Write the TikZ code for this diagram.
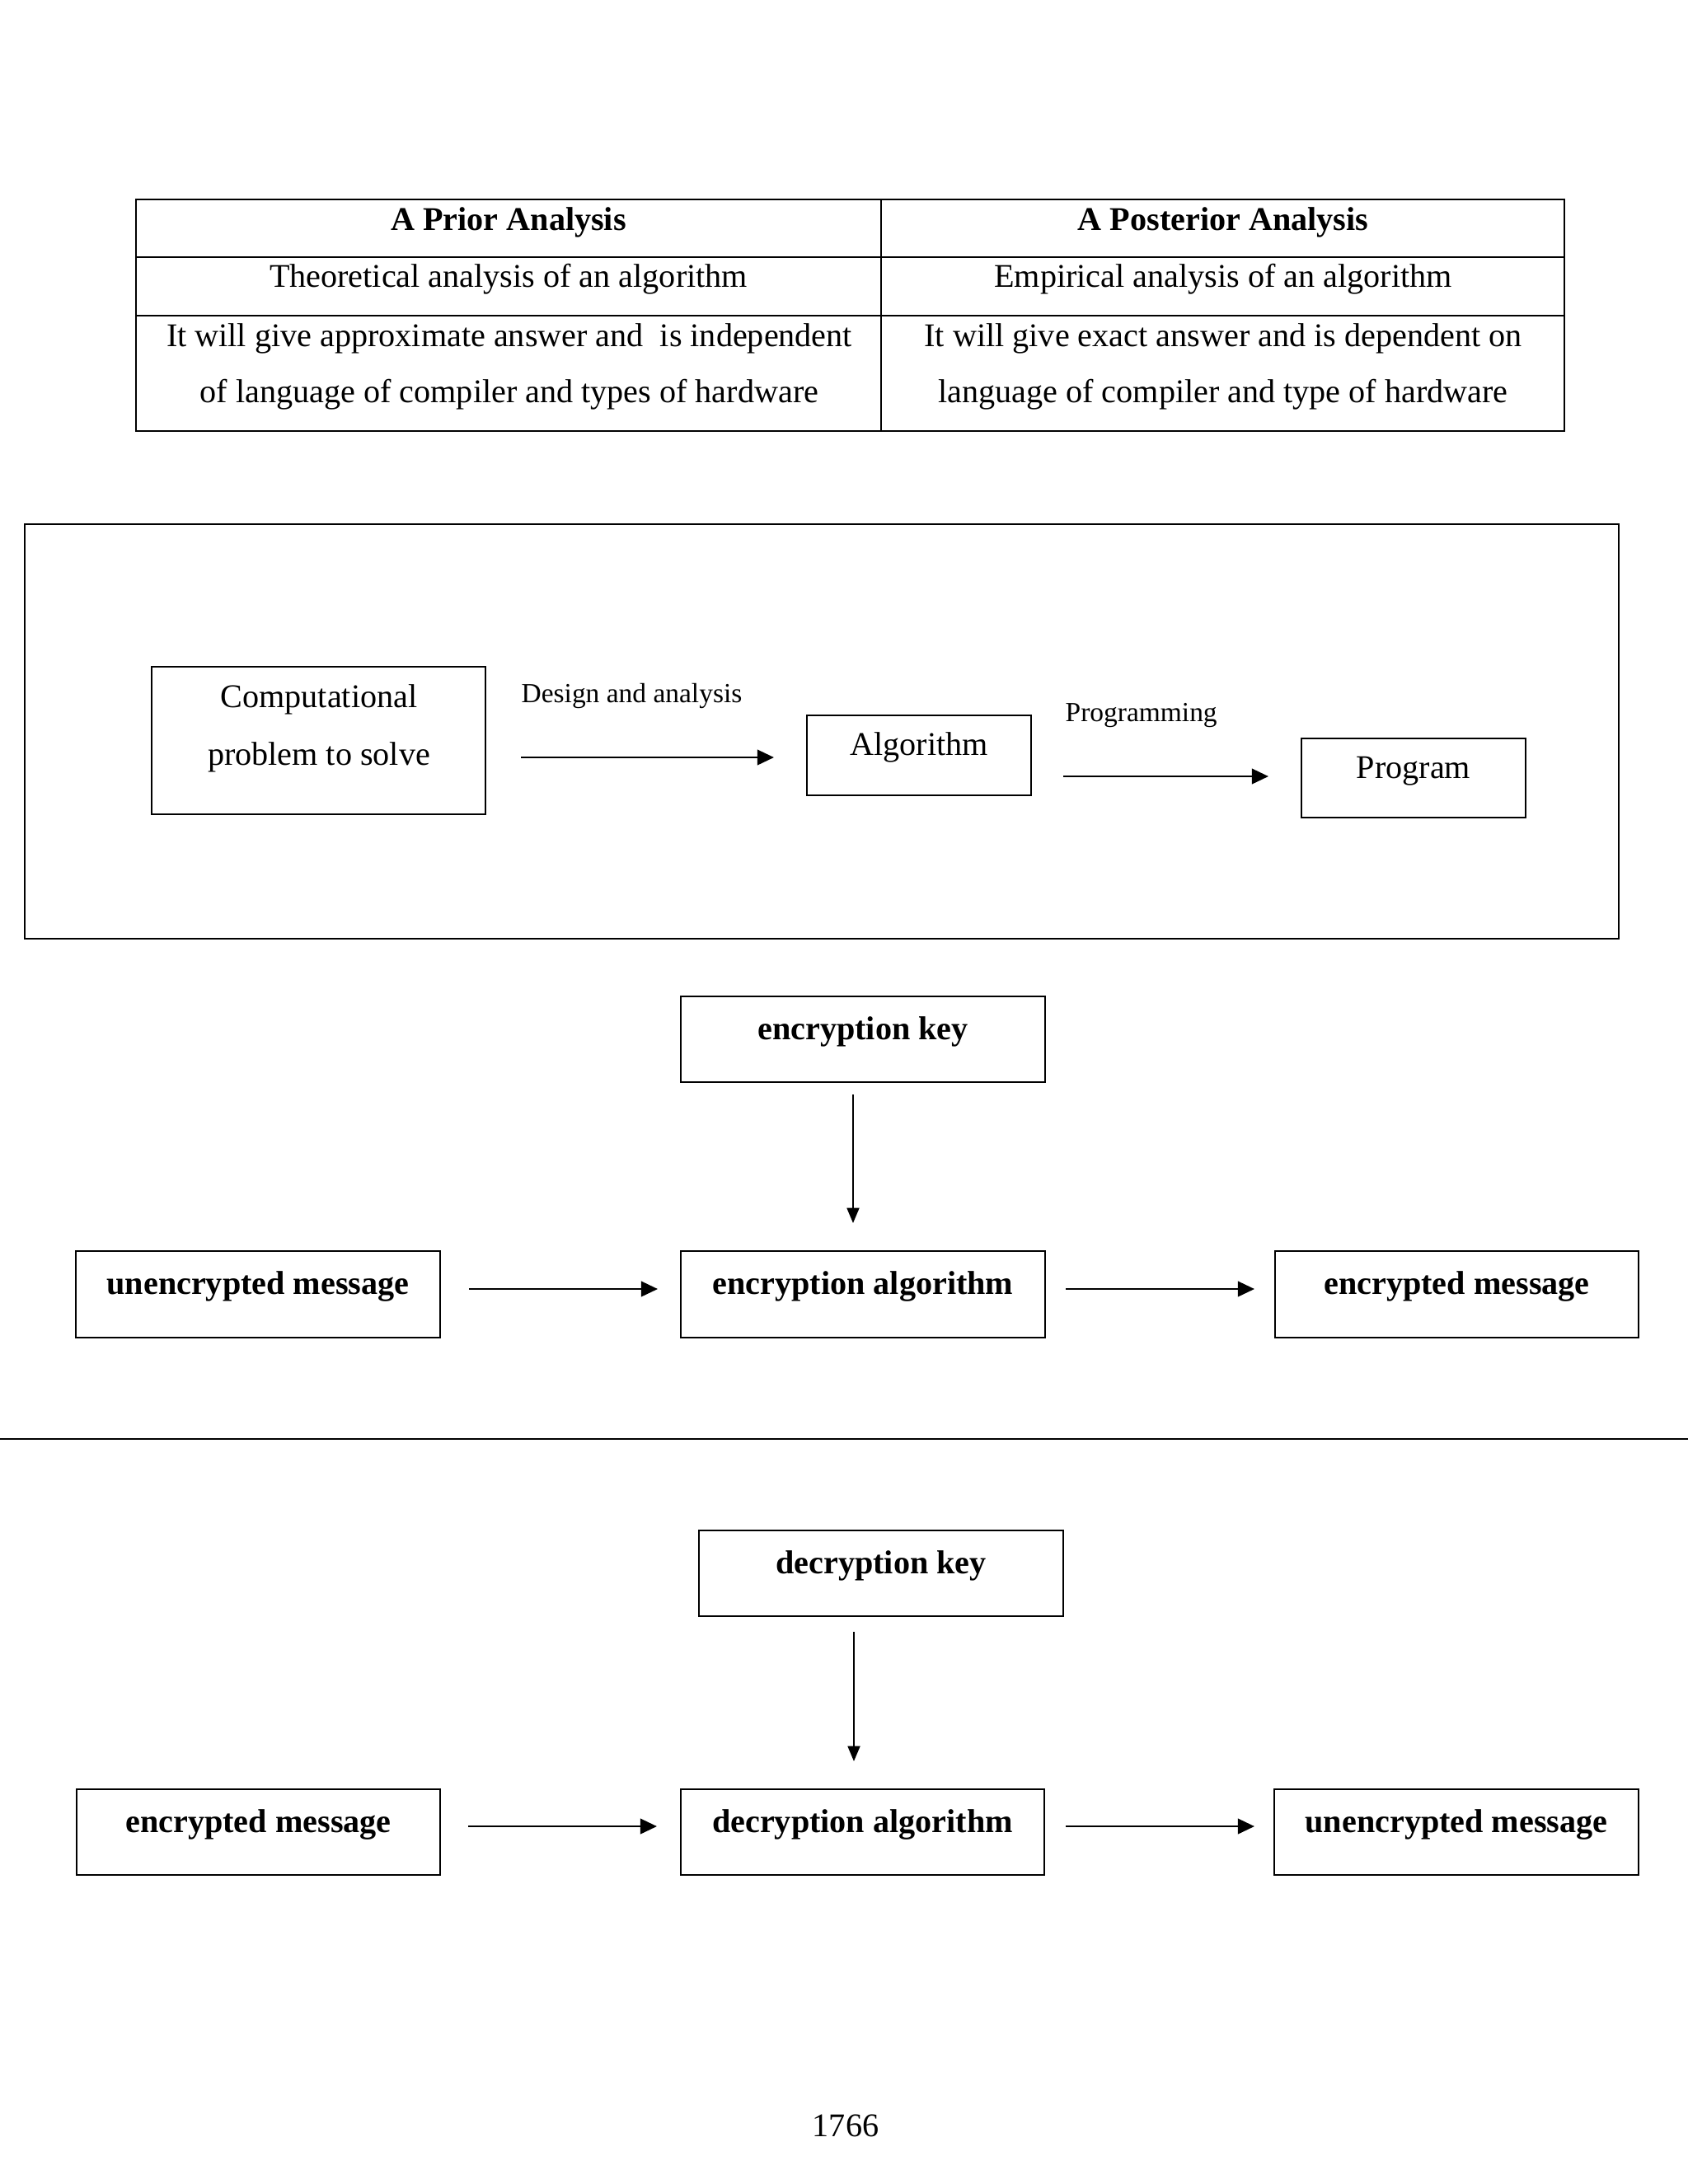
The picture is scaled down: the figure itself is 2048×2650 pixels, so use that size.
\documentclass[tikz,border=0pt]{standalone}
\usepackage{fontspec}
\setmainfont{Liberation Serif}
\usetikzlibrary{arrows.meta}
\def\pxu{0.29883pt}
\begin{document}
\begin{tikzpicture}[x=0.29883pt,y=-0.29883pt,
  tline/.style={line width=0.55pt},
  frame/.style={line width=0.55pt},
  box/.style={draw, line width=0.7pt, inner sep=0pt, text height=1.2ex, text depth=1.2ex},
  bbox/.style={box, font=\bfseries\fontsize{12}{14}\selectfont},
  rbox/.style={box, font=\fontsize{12}{14}\selectfont},
  txt/.style={anchor=base, inner sep=0pt, font=\fontsize{12}{14}\selectfont},
  btxt/.style={txt, font=\bfseries\fontsize{12}{14}\selectfont},
  lbl/.style={anchor=base west, inner sep=0pt, font=\fontsize{10}{12}\selectfont},
  arrH/.style={line width=0.8pt, -{Triangle[length=6pt,width=5.5pt]}},
  arrV/.style={line width=0.5pt, -{Triangle[length=5.5pt,width=4.5pt]}}]
\useasboundingbox (0,0) rectangle (2048,2650);

% ---------- table ----------
\draw[tline] (165,242) rectangle (1898,523);
\draw[tline] (165,312) -- (1898,312);
\draw[tline] (165,383) -- (1898,383);
\draw[tline] (1069,242) -- (1069,523);
\node[btxt] (h1) at (617,279) {A Prior Analysis};
\node[btxt] (h2) at (1484,279) {A Posterior Analysis};
\node[txt] (r2a) at (617,348) {Theoretical analysis of an algorithm};
\node[txt] (r2b) at (1484,348) {Empirical analysis of an algorithm};
\node[txt] (r3a1) at (618,420) {It will give approximate answer and~ is independent};
\node[txt] (r3a2) at (618,488) {of language of compiler and types of hardware};
\node[txt] (r3b1) at (1484,420) {It will give exact answer and is dependent on};
\node[txt] (r3b2) at (1484,488) {language of compiler and type of hardware};

% ---------- design diagram ----------
\draw[frame] (30,636) rectangle (1964,1139);
\node[draw, line width=0.7pt, minimum width=405*\pxu, minimum height=179*\pxu, inner sep=0pt] (comp) at (386.5,898.5) {};
\node[txt] (comp1) at (387,858) {Computational};
\node[txt] (comp2) at (387,928) {problem to solve};
\node[rbox, minimum width=272*\pxu, minimum height=97*\pxu] (alg) at (1115,916.5) {Algorithm};
\node[rbox, minimum width=272*\pxu, minimum height=96*\pxu] (prog) at (1715,944) {Program};
\coordinate (a1s) at (632,919);
\coordinate (a1e) at (939,919);
\coordinate (a2s) at (1290,942);
\coordinate (a2e) at (1539,942);
\draw[arrH] (a1s) -- (a1e);
\draw[arrH] (a2s) -- (a2e);
\node[lbl] (l1) at (632,852) {Design and analysis};
\node[lbl] (l2) at (1292,875) {Programming};

% ---------- encryption ----------
\node[bbox, minimum width=442*\pxu, minimum height=104*\pxu] (ek) at (1047,1261) {encryption key};
\node[bbox, minimum width=442*\pxu, minimum height=105*\pxu] (um) at (313,1570.5) {unencrypted message};
\node[bbox, minimum width=442*\pxu, minimum height=105*\pxu] (ea) at (1047,1570.5) {encryption algorithm};
\node[bbox, minimum width=441*\pxu, minimum height=105*\pxu] (em) at (1767.5,1570.5) {encrypted message};
\coordinate (ev1) at (1035,1328);
\coordinate (ev2) at (1035,1484);
\coordinate (eh1s) at (569,1564);
\coordinate (eh1e) at (798,1564);
\coordinate (eh2s) at (1293,1564);
\coordinate (eh2e) at (1522,1564);
\draw[arrV] (ev1) -- (ev2);
\draw[arrH] (eh1s) -- (eh1e);
\draw[arrH] (eh2s) -- (eh2e);

% ---------- separator ----------
\coordinate (sepL) at (0,1746);
\coordinate (sepR) at (2048,1746);
\draw[line width=0.6pt] (sepL) -- (sepR);

% ---------- decryption ----------
\node[bbox, minimum width=442*\pxu, minimum height=104*\pxu] (dk) at (1069,1909) {decryption key};
\node[bbox, minimum width=441*\pxu, minimum height=104*\pxu] (em2) at (313.5,2223) {encrypted message};
\node[bbox, minimum width=441*\pxu, minimum height=104*\pxu] (da) at (1046.5,2223) {decryption algorithm};
\node[bbox, minimum width=442*\pxu, minimum height=104*\pxu] (um2) at (1767,2223) {unencrypted message};
\coordinate (dv1) at (1036,1980);
\coordinate (dv2) at (1036,2137);
\coordinate (dh1s) at (568,2216);
\coordinate (dh1e) at (797,2216);
\coordinate (dh2s) at (1293,2216);
\coordinate (dh2e) at (1522,2216);
\draw[arrV] (dv1) -- (dv2);
\draw[arrH] (dh1s) -- (dh1e);
\draw[arrH] (dh2s) -- (dh2e);

% ---------- page number ----------
\node[txt] (pg) at (1026,2592) {1766};
\end{tikzpicture}
\end{document}
